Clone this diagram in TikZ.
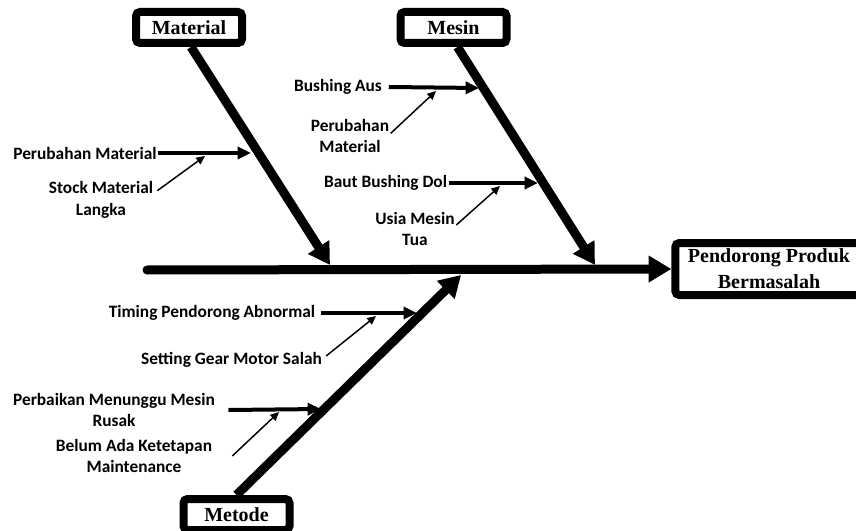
\documentclass[tikz,border=0pt]{standalone}
\usepackage{fontspec}
\setmainfont{Liberation Serif}
\newfontfamily\calib{Carlito}
\usetikzlibrary{arrows.meta}

\tikzset{
  headbox/.style={draw, line width=6pt, rounded corners=3pt, fill=white,
    font=\bfseries\fontsize{15}{19.5}\selectfont, align=center, inner sep=1pt,
    minimum width=79.5pt, minimum height=23.25pt},
  lbl/.style={font=\calib\bfseries\fontsize{13}{16}\selectfont, align=center, inner sep=1pt},
  spine/.style={line width=6.75pt, line cap=round, -{Triangle[length=17pt,width=19pt]}},
  bone/.style={line width=6.75pt, -{Triangle[length=16pt,width=18pt]}},
  twig/.style={line width=3pt, -{Triangle[length=10pt,width=9pt]}},
  thin/.style={line width=1.1pt, -{Triangle[length=6.5pt,width=6pt]}}
}

\begin{document}
\begin{tikzpicture}[x=0.75pt,y=0.75pt,yscale=-1]
\useasboundingbox (0,0) rectangle (856,531);

%Head boxes
\node[headbox] (matbox) at (189,27.5) {Material};
\node[headbox] (mesbox) at (453.5,27.5) {Mesin};
\node[headbox] (metbox) at (236.5,514.5) {Metode};
\node[headbox, minimum width=140.5pt, minimum height=39pt] (effect) at (769,269) {Pendorong Produk\\Bermasalah};

%Tips on the spine
\coordinate (tail) at (147,270);
\coordinate (matTip) at (330,265);
\coordinate (mesTip) at (595,265);
\coordinate (metTip) at (461,275);

%Spine and bones
\draw[spine] (tail) -- (effect.west);
\draw[bone] ([xshift=1.5pt]matbox.south) -- (matTip);
\draw[bone] ([xshift=3pt]mesbox.south) -- (mesTip);
\draw[bone] (metbox.north) -- (metTip);

%Material causes
\node[lbl] (perMat) at (85,153) {Perubahan Material};
\node[lbl] (stock) at (101,200) {Stock Material\\Langka};
\coordinate (perMatTip) at (251,153);
\coordinate (stockTip) at (205,156);
\draw[twig] (perMat.east) -- (perMatTip);
\draw[thin] ([xshift=2pt,yshift=-7pt]stock.east) -- (stockTip);

%Mesin causes
\node[lbl] (bush) at (338,87) {Bushing Aus};
\node[lbl] (perMes) at (350,136) {Perubahan\\Material};
\node[lbl] (baut) at (385.5,183) {Baut Bushing Dol};
\node[lbl] (usia) at (415,229) {Usia Mesin\\Tua};
\coordinate (bushTip) at (479,88);
\coordinate (perMesTip) at (436,91);
\coordinate (bautTip) at (538,183);
\coordinate (usiaTip) at (500,186);
\draw[twig] ([xshift=4pt]bush.east) -- (bushTip);
\draw[thin] ([yshift=-2pt]perMes.east) -- (perMesTip);
\draw[twig] (baut.east) -- (bautTip);
\draw[thin] ([yshift=-3pt]usia.east) -- (usiaTip);

%Metode causes
\node[lbl] (timing) at (212,313) {Timing Pendorong Abnormal};
\node[lbl] (setting) at (231.5,360) {Setting Gear Motor Salah};
\node[lbl] (perb) at (114,410) {Perbaikan Menunggu Mesin\\Rusak};
\node[lbl] (belum) at (134,456) {Belum Ada Ketetapan\\Maintenance};
\coordinate (timingTip) at (417,313);
\coordinate (settingTip) at (376,316);
\coordinate (perbTip) at (321,409);
\coordinate (belumTip) at (279,412);
\draw[twig] ([xshift=3pt]timing.east) -- (timingTip);
\draw[thin] ([xshift=2pt,yshift=-3pt]setting.east) -- (settingTip);
\draw[twig] ([xshift=9pt]perb.east) -- (perbTip);
\draw[thin] ([xshift=14pt]belum.east) -- (belumTip);

\end{tikzpicture}
\end{document}
